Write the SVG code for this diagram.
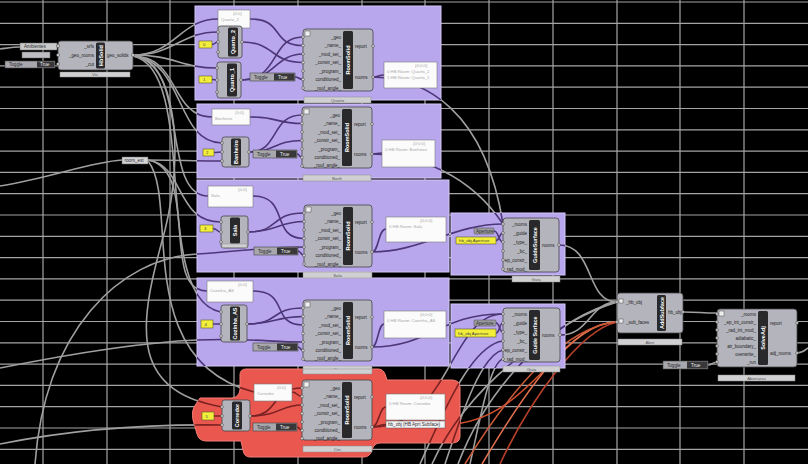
<svg xmlns="http://www.w3.org/2000/svg" xmlns:xlink="http://www.w3.org/1999/xlink" width="808" height="464" viewBox="0 0 808 464">
<style>
.grid{stroke:#a4a4a4;stroke-width:1.2;fill:none}
.grp{fill:#b9a7ee;stroke:#d2c6f6;stroke-width:1}
.grpR{fill:#e9574f;stroke:#f27c74;stroke-width:1}
.cmp{fill:#b4b4bc;stroke:#454548;stroke-width:0.8}
.bar{fill:#29292c}
.barT{font-family:"Liberation Sans",Arial,sans-serif;font-weight:bold;font-size:5.5px;fill:#fff;text-anchor:middle}
.lbl{font-family:"Liberation Sans",Arial,sans-serif;font-size:4.5px;fill:#1e1e1e}
.end{text-anchor:end}
.grip{fill:#dcdcdc;stroke:#333;stroke-width:0.5}
.pnl{fill:#fbfbfb;stroke:#7a7a7a;stroke-width:0.6}
.pt{font-family:"Liberation Sans",Arial,sans-serif;font-size:4.3px;fill:#a8a8a8}
.yel{fill:#f2ee3a;stroke:#5a5a30;stroke-width:0.6}
.yt{font-family:"Liberation Sans",Arial,sans-serif;font-size:4.3px;fill:#444}
.tgl{fill:#a7a7ad;stroke:#444;stroke-width:0.6}
.tglD{fill:#38383b}
.tt{font-family:"Liberation Sans",Arial,sans-serif;font-size:4.6px;fill:#2a2a2a}
.ttD{font-family:"Liberation Sans",Arial,sans-serif;font-size:4.6px;fill:#eee}
.tab{fill:#d0d0d3;stroke:#8a8a8a;stroke-width:0.5}
.tabT{font-family:"Liberation Sans",Arial,sans-serif;font-size:4.3px;fill:#555;text-anchor:middle}
.hot{fill:none;stroke-width:1.6}
</style>
<defs>
<clipPath id="clipP">
<rect x="195" y="6" width="246" height="94"/>
<rect x="197" y="104" width="244" height="74"/>
<rect x="197" y="180" width="252" height="92"/>
<rect x="197" y="278" width="252" height="88"/>
<rect x="451" y="213" width="114" height="62"/>
<rect x="451" y="304" width="114" height="64"/>
</clipPath>
<clipPath id="clipR">
<path d="M240,375 Q240,369 246,369 L378,369 Q383,369 385,374 L387,380 L452,380 Q460,380 460,388 L460,436 Q460,443 452,443 L380,443 Q374,443 372,450 Q370,457 364,457 L250,457 Q244,457 243,450 L241,441 L206,441 Q199,441 197,434 L193,420 Q191,410 196,404 L200,398 L232,398 Q239,397 240,390 Z"/>
</clipPath>
</defs>
<rect width="808" height="464" fill="#000"/>
<path class="grid" d="M43,0V464M107,0V464M170,0V464M234,0V464M298,0V464M362,0V464M425,0V464M489,0V464M553,0V464M617,0V464M680,0V464M744,0V464M0,2H808M0,23.3H808M0,44.6H808M0,65.9H808M0,87.2H808M0,108.5H808M0,129.8H808M0,151.1H808M0,172.4H808M0,193.7H808M0,215H808M0,236.3H808M0,257.6H808M0,278.9H808M0,300.2H808M0,321.5H808M0,342.8H808M0,364.1H808M0,385.4H808M0,406.7H808M0,428H808M0,449.3H808"/>

<g stroke="#a0a0a0">
<g id="connectors" fill="none" stroke-width="1.6">
<path d="M0,49 C8,48 14,47 20,47"/>
<path d="M133,55 C175,55 180,19 218,19"/>
<path d="M133,55 C175,55 180,32 218,32"/>
<path d="M133,55 C175,55 180,68 217,68"/>
<path d="M133,56 C180,56 170,117 212,117"/>
<path d="M133,56 C185,60 175,143 222,143"/>
<path d="M133,56 C190,60 160,196 208,196"/>
<path d="M133,56 C175,60 185,150 165,230 C140,320 125,390 222,407"/>
<path d="M133,56 C200,70 150,300 221,312"/>
<path d="M0,186 C50,178 90,162 122,160"/>
<path d="M148,160 C185,160 185,161 222,161"/>
<path d="M148,160 C185,165 175,222 221,222"/>
<path d="M148,160 C200,170 160,291 207,291"/>
<path d="M148,161 C180,200 130,360 254,392"/>
<path d="M35,464 C45,330 120,258 197,254 C250,250 270,247 304,247"/>
<path d="M0,368 C80,352 150,342 197,340 C250,338 270,342 303,342"/>
<path d="M0,444 C80,428 150,424 222,425"/>
<path d="M212,44.5 C215,44.5 215,42 218,42"/>
<path d="M212,79.5 C215,79.5 215,80 217,80"/>
<path d="M242,42 C275,42 270,62.5 303,62.5"/>
<path d="M250,19 C285,19 270,45.5 303,45.5"/>
<path d="M241,80 C280,80 270,37 303,37"/>
<path d="M241,80 C275,80 275,54 303,54"/>
<path d="M295,77 C299,77 299,79.5 303,79.5"/>
<path d="M373,77 C379,77 378,75 384,75"/>
<path d="M214,152.5 C218,152.5 218,152 222,152"/>
<path d="M249,152 C280,152 270,115 302,115"/>
<path d="M250,117 C280,117 275,123.5 302,123.5"/>
<path d="M249,152 C275,152 275,140.5 302,140.5"/>
<path d="M297,154 C300,154 299,157.5 302,157.5"/>
<path d="M372,154 C377,154 377,153 382,153"/>
<path d="M213,228.5 C217,228.5 217,232 221,232"/>
<path d="M248,232 C280,232 270,213 304,213"/>
<path d="M253,196 C290,196 270,238.5 304,238.5"/>
<path d="M248,232 C275,232 280,221.5 304,221.5"/>
<path d="M298,251 C301,251 301,255.5 304,255.5"/>
<path d="M372,252 C379,252 378,229 386,229"/>
<path d="M213,324 C217,324 217,324 221,324"/>
<path d="M247,324 C280,324 270,308 303,308"/>
<path d="M253,291 C290,291 270,325 303,325"/>
<path d="M247,324 C275,324 275,316.5 303,316.5"/>
<path d="M298,347 C301,347 300,350.5 303,350.5"/>
<path d="M372,347 C378,347 378,324 384,324"/>
<path d="M214,416 C218,416 218,416 222,416"/>
<path d="M250,416 C280,416 270,388 302,388"/>
<path d="M292,392 C297,392 297,396.5 302,396.5"/>
<path d="M250,416 C280,416 280,405 302,405"/>
<path d="M297,427 C300,427 299,430.5 302,430.5"/>
<path d="M372,427 C379,427 379,407 386,407"/>
<path d="M372,427 C379,427 379,424.5 386,424.5"/>
<path d="M373,77 C425,78 485,110 503,224"/>
<path d="M372,154 C420,155 470,175 503,224"/>
<path d="M372,252 C420,252 455,224 503,224"/>
<path d="M494,231 C499,231 498,242 503,242"/>
<path d="M496,240.5 C500,240.5 499,233 503,233"/>
<path d="M372,347 C430,347 440,314 503,314"/>
<path d="M372,427 C450,427 450,314 503,314"/>
<path d="M496,323 C500,323 499,332 503,332"/>
<path d="M496,333 C500,333 499,323 503,323"/>
<path d="M420,464 C440,420 470,345 503,341"/>
<path d="M445,464 C460,420 480,355 503,350"/>
<path d="M470,464 C480,420 490,362 503,359"/>
<path d="M458,464 C490,380 560,315 617,302"/>
<path d="M432,464 C470,380 560,320 617,302"/>
<path d="M559,245 C595,245 585,302 617,302"/>
<path d="M560,335 C590,335 590,302 617,302"/>
<path d="M683,312 C700,312 700,313 717,313"/>
<path d="M708,365 C712,365 713,362 717,362"/>
<path d="M797,353 C803,353 805,350 808,348"/>
</g>
</g>
<g id="hotwires">
<path class="hot" stroke="#d0502e" d="M445,424.5 C530,424 560,322 617,322"/>
<path class="hot" stroke="#e0704e" d="M482,464 C520,400 570,322 617,322"/>
<path class="hot" stroke="#b8402a" d="M500,464 C530,400 580,330 617,322"/>
<path class="hot" stroke="#c95a3a" d="M465,464 C510,390 565,326 617,322"/>
</g>

<g id="group-quarto"><rect class="grp" x="195" y="6" width="246" height="94"/></g>
<g id="group-banheiro"><rect class="grp" x="197" y="104" width="244" height="74"/></g>
<g id="group-sala"><rect class="grp" x="197" y="180" width="252" height="92"/></g>
<g id="group-cozinha"><rect class="grp" x="197" y="278" width="252" height="88"/></g>
<g id="group-corredor"><path class="grpR" d="M240,375 Q240,369 246,369 L378,369 Q383,369 385,374 L387,380 L452,380 Q460,380 460,388 L460,436 Q460,443 452,443 L380,443 Q374,443 372,450 Q370,457 364,457 L250,457 Q244,457 243,450 L241,441 L206,441 Q199,441 197,434 L193,420 Q191,410 196,404 L200,398 L232,398 Q239,397 240,390 Z"/></g>
<g id="group-guide1"><rect class="grp" x="451" y="213" width="114" height="62"/></g>
<g id="group-guide2"><rect class="grp" x="451" y="304" width="114" height="64"/></g>

<use xlink:href="#connectors" href="#connectors" stroke="#4e3778" clip-path="url(#clipP)"/>
<use xlink:href="#connectors" href="#connectors" stroke="#7a2222" clip-path="url(#clipR)"/>

<!-- top-left -->
<g id="panel-ambientes"><rect x="20" y="43" width="37" height="7" fill="#c9c9cc" stroke="#666" stroke-width="0.5"/><text class="tt" x="24" y="48.3">Ambientes</text></g>
<g id="param-small"><rect x="22" y="52" width="28" height="6" fill="#bdbdc2" stroke="#666" stroke-width="0.5"/></g>
<g id="toggle-0"><rect class="tgl" x="5" y="61" width="50" height="7"/><rect class="tglD" x="37" y="61.5" width="17.5" height="6"/><text class="tt" x="9" y="66">Toggle</text><text class="ttD" x="40" y="66">True</text></g>
<g id="hbsolid" transform="translate(58,41)">
<rect class="cmp" width="75" height="29" rx="3"/><rect class="bar" x="38" y="1.5" width="9" height="26" rx="1.5"/>
<text class="barT" transform="translate(44.5,14.5) rotate(-90)">HbSolid</text>
<text class="lbl end" x="36" y="6.5">_srfs</text><text class="lbl end" x="36" y="15.5">_geo_rooms</text><text class="lbl end" x="36" y="24.5">_cut</text>
<text class="lbl" x="49" y="15.5">geo_solids</text>
<circle class="grip" cx="0" cy="5" r="1.5"/><circle class="grip" cx="0" cy="14" r="1.5"/><circle class="grip" cx="0" cy="23" r="1.5"/><circle class="grip" cx="75" cy="14" r="1.5"/>
</g>
<g id="tab-0"><rect class="tab" x="60" y="72" width="70" height="5"/><text class="tabT" x="95" y="76">Vis</text></g>
<g id="room-ext"><rect x="122" y="157" width="26" height="7" fill="#d4d4d8" stroke="#666" stroke-width="0.5"/><text class="tt" x="124.5" y="162.3">room_ext</text></g>

<!-- group 1 -->
<g id="panel-q"><rect class="pnl" x="218" y="10" width="32" height="18"/><text class="pt" x="233" y="15">{0;0}</text><text class="pt" x="221" y="21">Quarto_2</text></g>
<g id="yel-1"><rect class="yel" x="199" y="41" width="13" height="7"/><text class="yt" x="203" y="46">0</text></g>
<g id="quarto2" transform="translate(218,26)"><rect class="cmp" width="24" height="32" rx="2.5"/><rect class="bar" x="10" y="1.5" width="10" height="29" rx="1.5"/><text class="barT" transform="translate(17,16) rotate(-90)">Quarto_2</text><circle class="grip" cx="0" cy="6" r="1.4"/><circle class="grip" cx="0" cy="16" r="1.4"/><circle class="grip" cx="0" cy="26" r="1.4"/><circle class="grip" cx="24" cy="16" r="1.4"/></g>
<g id="yel-2"><rect class="yel" x="199" y="76" width="13" height="7"/><text class="yt" x="203" y="81">1</text></g>
<g id="quarto1" transform="translate(217,62)"><rect class="cmp" width="24" height="36" rx="2.5"/><rect class="bar" x="10" y="1.5" width="10" height="33" rx="1.5"/><text class="barT" transform="translate(17,18) rotate(-90)">Quarto_1</text><circle class="grip" cx="0" cy="6" r="1.4"/><circle class="grip" cx="0" cy="18" r="1.4"/><circle class="grip" cx="0" cy="30" r="1.4"/><circle class="grip" cx="24" cy="18" r="1.4"/></g>
<g id="toggle-1"><rect class="tgl" x="250" y="73" width="45" height="8"/><rect class="tglD" x="274" y="73.5" width="20.5" height="7"/><text class="tt" x="254" y="78.6">Toggle</text><text class="ttD" x="278" y="78.6">True</text></g>
<g id="roomsolid-1" transform="translate(303,29)">
<rect class="cmp" width="70" height="62" rx="3"/><rect class="bar" x="40" y="2" width="10" height="58" rx="1.5"/><rect x="2" y="2" width="5" height="5" fill="#eee" stroke="#333" stroke-width="0.4"/>
<text class="barT" transform="translate(47,31) rotate(-90)">RoomSolid</text>
<text class="lbl end" x="38" y="9.5">_geo</text><text class="lbl end" x="38" y="18">_name_</text><text class="lbl end" x="38" y="26.5">_mod_set_</text><text class="lbl end" x="38" y="35">_constr_set_</text><text class="lbl end" x="38" y="43.5">_program_</text><text class="lbl end" x="38" y="52">conditioned_</text><text class="lbl end" x="38" y="60.5">_roof_angle_</text>
<text class="lbl" x="52" y="18.5">report</text><text class="lbl" x="52" y="49.5">rooms</text>
<circle class="grip" cx="0" cy="8" r="1.4"/><circle class="grip" cx="0" cy="16.5" r="1.4"/><circle class="grip" cx="0" cy="25" r="1.4"/><circle class="grip" cx="0" cy="33.5" r="1.4"/><circle class="grip" cx="0" cy="42" r="1.4"/><circle class="grip" cx="0" cy="50.5" r="1.4"/><circle class="grip" cx="0" cy="59" r="1.4"/><circle class="grip" cx="70" cy="17" r="1.4"/><circle class="grip" cx="70" cy="48" r="1.4"/>
</g>
<g id="panel-r1"><rect class="pnl" x="384" y="62" width="53" height="26"/><text class="pt" x="415" y="67">{0;0;0}</text><text class="pt" x="387" y="73">0 HB Room: Quarto_2</text><text class="pt" x="387" y="79">1 HB Room: Quarto_1</text></g>
<g id="tab-1"><rect class="tab" x="304" y="97" width="67" height="6"/><text class="tabT" x="337.5" y="101.6">Quarto</text></g>

<!-- group 2 -->
<g id="panel-b"><rect class="pnl" x="212" y="109" width="38" height="16"/><text class="pt" x="235" y="114">{0;0}</text><text class="pt" x="215" y="120">Banheiro</text></g>
<g id="yel-3"><rect class="yel" x="203" y="149" width="11" height="7"/><text class="yt" x="206" y="154">2</text></g>
<g id="banheiro" transform="translate(222,137)"><rect class="cmp" width="27" height="30" rx="2.5"/><rect class="bar" x="9" y="1.5" width="10" height="27" rx="1.5"/><text class="barT" transform="translate(16,15) rotate(-90)">Banheiro</text><circle class="grip" cx="0" cy="6" r="1.4"/><circle class="grip" cx="0" cy="15" r="1.4"/><circle class="grip" cx="0" cy="24" r="1.4"/><circle class="grip" cx="27" cy="15" r="1.4"/></g>
<g id="toggle-2"><rect class="tgl" x="253" y="150" width="44" height="8"/><rect class="tglD" x="276" y="150.5" width="20.5" height="7"/><text class="tt" x="257" y="155.6">Toggle</text><text class="ttD" x="280" y="155.6">True</text></g>
<g id="roomsolid-2" transform="translate(302,107)">
<rect class="cmp" width="70" height="61" rx="3"/><rect class="bar" x="40" y="2" width="10" height="57" rx="1.5"/><rect x="2" y="2" width="5" height="5" fill="#eee" stroke="#333" stroke-width="0.4"/>
<text class="barT" transform="translate(47,30.5) rotate(-90)">RoomSolid</text>
<text class="lbl end" x="38" y="9.5">_geo</text><text class="lbl end" x="38" y="18">_name_</text><text class="lbl end" x="38" y="26.5">_mod_set_</text><text class="lbl end" x="38" y="35">_constr_set_</text><text class="lbl end" x="38" y="43.5">_program_</text><text class="lbl end" x="38" y="52">conditioned_</text><text class="lbl end" x="38" y="60">_roof_angle_</text>
<text class="lbl" x="52" y="18.5">report</text><text class="lbl" x="52" y="48.5">rooms</text>
<circle class="grip" cx="0" cy="8" r="1.4"/><circle class="grip" cx="0" cy="16.5" r="1.4"/><circle class="grip" cx="0" cy="25" r="1.4"/><circle class="grip" cx="0" cy="33.5" r="1.4"/><circle class="grip" cx="0" cy="42" r="1.4"/><circle class="grip" cx="0" cy="50.5" r="1.4"/><circle class="grip" cx="0" cy="59" r="1.4"/><circle class="grip" cx="70" cy="17" r="1.4"/><circle class="grip" cx="70" cy="47" r="1.4"/>
</g>
<g id="panel-r2"><rect class="pnl" x="382" y="140" width="53" height="27"/><text class="pt" x="413" y="145">{0;0;0}</text><text class="pt" x="385" y="151">0 HB Room: Banheiro</text></g>
<g id="tab-2"><rect class="tab" x="303" y="175" width="68" height="6"/><text class="tabT" x="337" y="179.6">Banh</text></g>

<!-- group 3 -->
<g id="panel-s"><rect class="pnl" x="208" y="186" width="45" height="21"/><text class="pt" x="238" y="191">{0;0}</text><text class="pt" x="211" y="197">Sala</text></g>
<g id="yel-4"><rect class="yel" x="200" y="225" width="13" height="7"/><text class="yt" x="204" y="230">3</text></g>
<g id="sala" transform="translate(221,216)"><rect class="cmp" width="27" height="32" rx="2.5"/><rect class="bar" x="9" y="1.5" width="10" height="26" rx="1.5"/><text class="barT" transform="translate(16,14.5) rotate(-90)">Sala</text><rect class="tab" x="1" y="28" width="25" height="3.5"/><circle class="grip" cx="0" cy="6" r="1.4"/><circle class="grip" cx="0" cy="16" r="1.4"/><circle class="grip" cx="0" cy="26" r="1.4"/><circle class="grip" cx="27" cy="16" r="1.4"/></g>
<g id="toggle-3"><rect class="tgl" x="254" y="247" width="44" height="8"/><rect class="tglD" x="277" y="247.5" width="20.5" height="7"/><text class="tt" x="258" y="252.6">Toggle</text><text class="ttD" x="281" y="252.6">True</text></g>
<g id="roomsolid-3" transform="translate(304,205)">
<rect class="cmp" width="68" height="62" rx="3"/><rect class="bar" x="39" y="2" width="10" height="58" rx="1.5"/><rect x="2" y="2" width="5" height="5" fill="#eee" stroke="#333" stroke-width="0.4"/>
<text class="barT" transform="translate(46,31) rotate(-90)">RoomSolid</text>
<text class="lbl end" x="37" y="9.5">_geo</text><text class="lbl end" x="37" y="18">_name_</text><text class="lbl end" x="37" y="26.5">_mod_set_</text><text class="lbl end" x="37" y="35">_constr_set_</text><text class="lbl end" x="37" y="43.5">_program_</text><text class="lbl end" x="37" y="52">conditioned_</text><text class="lbl end" x="37" y="60.5">_roof_angle_</text>
<text class="lbl" x="51" y="18.5">report</text><text class="lbl" x="51" y="48.5">rooms</text>
<circle class="grip" cx="0" cy="8" r="1.4"/><circle class="grip" cx="0" cy="16.5" r="1.4"/><circle class="grip" cx="0" cy="25" r="1.4"/><circle class="grip" cx="0" cy="33.5" r="1.4"/><circle class="grip" cx="0" cy="42" r="1.4"/><circle class="grip" cx="0" cy="50.5" r="1.4"/><circle class="grip" cx="0" cy="59" r="1.4"/><circle class="grip" cx="68" cy="17" r="1.4"/><circle class="grip" cx="68" cy="47" r="1.4"/>
</g>
<g id="panel-r3"><rect class="pnl" x="386" y="217" width="60" height="25"/><text class="pt" x="420" y="222">{0;0;0}</text><text class="pt" x="389" y="228">0 HB Room: Sala</text></g>
<g id="tab-3"><rect class="tab" x="303" y="272" width="69" height="6"/><text class="tabT" x="337.5" y="276.6">Sala</text></g>

<!-- group 4 -->
<g id="panel-c"><rect class="pnl" x="207" y="281" width="46" height="21"/><text class="pt" x="238" y="286">{0;0}</text><text class="pt" x="210" y="292">Cozinha_AS</text></g>
<g id="yel-5"><rect class="yel" x="201" y="320" width="12" height="8"/><text class="yt" x="204.5" y="325.5">4</text></g>
<g id="cozinha" transform="translate(221,305)"><rect class="cmp" width="26" height="37" rx="2.5"/><rect class="bar" x="9" y="1.5" width="10" height="34" rx="1.5"/><text class="barT" transform="translate(16,18.5) rotate(-90)">Cozinha_AS</text><circle class="grip" cx="0" cy="7" r="1.4"/><circle class="grip" cx="0" cy="19" r="1.4"/><circle class="grip" cx="0" cy="31" r="1.4"/><circle class="grip" cx="26" cy="19" r="1.4"/></g>
<g id="toggle-4"><rect class="tgl" x="253" y="343" width="45" height="8"/><rect class="tglD" x="277" y="343.5" width="20.5" height="7"/><text class="tt" x="257" y="348.6">Toggle</text><text class="ttD" x="281" y="348.6">True</text></g>
<g id="roomsolid-4" transform="translate(303,300)">
<rect class="cmp" width="69" height="61" rx="3"/><rect class="bar" x="40" y="2" width="10" height="57" rx="1.5"/><rect x="2" y="2" width="5" height="5" fill="#eee" stroke="#333" stroke-width="0.4"/>
<text class="barT" transform="translate(47,30.5) rotate(-90)">RoomSolid</text>
<text class="lbl end" x="38" y="9.5">_geo</text><text class="lbl end" x="38" y="18">_name_</text><text class="lbl end" x="38" y="26.5">_mod_set_</text><text class="lbl end" x="38" y="35">_constr_set_</text><text class="lbl end" x="38" y="43.5">_program_</text><text class="lbl end" x="38" y="52">conditioned_</text><text class="lbl end" x="38" y="60">_roof_angle_</text>
<text class="lbl" x="52" y="18.5">report</text><text class="lbl" x="52" y="48.5">rooms</text>
<circle class="grip" cx="0" cy="8" r="1.4"/><circle class="grip" cx="0" cy="16.5" r="1.4"/><circle class="grip" cx="0" cy="25" r="1.4"/><circle class="grip" cx="0" cy="33.5" r="1.4"/><circle class="grip" cx="0" cy="42" r="1.4"/><circle class="grip" cx="0" cy="50.5" r="1.4"/><circle class="grip" cx="0" cy="59" r="1.4"/><circle class="grip" cx="69" cy="17" r="1.4"/><circle class="grip" cx="69" cy="47" r="1.4"/>
</g>
<g id="panel-r4"><rect class="pnl" x="384" y="311" width="62" height="27"/><text class="pt" x="420" y="316">{0;0;0}</text><text class="pt" x="387" y="322">0 HB Room: Cozinha_AS</text></g>
<g id="tab-4"><rect class="tab" x="303" y="366" width="69" height="6"/><text class="tabT" x="337.5" y="370.6">Coz</text></g>

<!-- red group -->
<g id="panel-cr"><rect class="pnl" x="254" y="384" width="38" height="17"/><text class="pt" x="277" y="389">{0;0}</text><text class="pt" x="257" y="395">Corredor</text></g>
<g id="yel-6"><rect class="yel" x="202" y="412" width="12" height="8"/><text class="yt" x="205.5" y="417.5">5</text></g>
<g id="corredor" transform="translate(222,400)"><rect class="cmp" width="28" height="31" rx="2.5"/><rect class="bar" x="10" y="1.5" width="10" height="28" rx="1.5"/><text class="barT" transform="translate(17,15.5) rotate(-90)">Corredor</text><circle class="grip" cx="0" cy="7" r="1.4"/><circle class="grip" cx="0" cy="16" r="1.4"/><circle class="grip" cx="0" cy="25" r="1.4"/><circle class="grip" cx="28" cy="16" r="1.4"/></g>
<g id="toggle-5"><rect class="tgl" x="253" y="423" width="44" height="8"/><rect class="tglD" x="276" y="423.5" width="20.5" height="7"/><text class="tt" x="257" y="428.6">Toggle</text><text class="ttD" x="280" y="428.6">True</text></g>
<g id="roomsolid-5" transform="translate(302,380)">
<rect class="cmp" width="70" height="60" rx="3"/><rect class="bar" x="40" y="2" width="10" height="56" rx="1.5"/><rect x="2" y="2" width="5" height="5" fill="#eee" stroke="#333" stroke-width="0.4"/>
<text class="barT" transform="translate(47,30) rotate(-90)">RoomSolid</text>
<text class="lbl end" x="38" y="9.5">_geo</text><text class="lbl end" x="38" y="18">_name_</text><text class="lbl end" x="38" y="26.5">_mod_set_</text><text class="lbl end" x="38" y="35">_constr_set_</text><text class="lbl end" x="38" y="43.5">_program_</text><text class="lbl end" x="38" y="52">conditioned_</text><text class="lbl end" x="38" y="59.5">_roof_angle_</text>
<text class="lbl" x="52" y="18.5">report</text><text class="lbl" x="52" y="48.5">rooms</text>
<circle class="grip" cx="0" cy="8" r="1.4"/><circle class="grip" cx="0" cy="16.5" r="1.4"/><circle class="grip" cx="0" cy="25" r="1.4"/><circle class="grip" cx="0" cy="33.5" r="1.4"/><circle class="grip" cx="0" cy="42" r="1.4"/><circle class="grip" cx="0" cy="50.5" r="1.4"/><circle class="grip" cx="0" cy="58.5" r="1.4"/><circle class="grip" cx="70" cy="17" r="1.4"/><circle class="grip" cx="70" cy="47" r="1.4"/>
</g>
<g id="panel-r5"><rect class="pnl" x="386" y="394" width="59" height="26"/><text class="pt" x="420" y="399">{0;0;0}</text><text class="pt" x="389" y="405">0 HB Room: Corredor</text></g>
<g id="panel-hbobj"><rect x="386" y="421" width="59" height="7" fill="#f4f4f6" stroke="#555" stroke-width="0.5"/><text class="tt" x="388" y="426.3">hb_obj (HB Aprt Subface)</text></g>
<g id="tab-5a"><rect class="tab" x="303" y="369" width="69" height="5"/></g>
<g id="tab-5"><rect class="tab" x="303" y="446" width="69" height="6"/><text class="tabT" x="337.5" y="450.6">Circ</text></g>

<!-- guide surface 1 -->
<g id="tag-ap1"><rect x="474" y="228" width="20" height="6" fill="#9c9ca2" stroke="#444" stroke-width="0.5" rx="1"/><text class="tt" x="476" y="232.6">Aperture</text></g>
<g id="yel-7"><rect class="yel" x="456" y="237" width="40" height="7"/><text class="yt" x="459" y="242">hb_obj Aperture</text></g>
<g id="guide-1" transform="translate(503,218)">
<rect class="cmp" width="56" height="54" rx="3"/><rect class="bar" x="26" y="2" width="11" height="50" rx="1.5"/>
<text class="barT" transform="translate(33.5,27) rotate(-90)">GuideSurface</text>
<text class="lbl end" x="24" y="7.5">_rooms</text><text class="lbl end" x="24" y="16.5">_guide</text><text class="lbl end" x="24" y="25.5">_type_</text><text class="lbl end" x="24" y="34.5">_bc_</text><text class="lbl end" x="24" y="43.5">ep_constr_</text><text class="lbl end" x="24" y="52.5">rad_mod_</text>
<text class="lbl" x="39" y="28.5">rooms</text>
<circle class="grip" cx="0" cy="6" r="1.4"/><circle class="grip" cx="0" cy="15" r="1.4"/><circle class="grip" cx="0" cy="24" r="1.4"/><circle class="grip" cx="0" cy="33" r="1.4"/><circle class="grip" cx="0" cy="42" r="1.4"/><circle class="grip" cx="0" cy="51" r="1.4"/><circle class="grip" cx="56" cy="27" r="1.4"/>
</g>
<g id="tab-g1"><rect class="tab" x="512" y="276" width="48" height="6"/><text class="tabT" x="536" y="280.6">Guia</text></g>

<!-- guide surface 2 -->
<g id="tag-ap2"><rect x="474" y="320" width="22" height="6" fill="#9c9ca2" stroke="#444" stroke-width="0.5" rx="1"/><text class="tt" x="476" y="324.6">Aperture</text></g>
<g id="yel-8"><rect class="yel" x="455" y="329" width="41" height="8"/><text class="yt" x="458" y="334.5">hb_obj Aperture</text></g>
<g id="guide-2" transform="translate(503,308)">
<rect class="cmp" width="57" height="54" rx="3"/><rect class="bar" x="26" y="2" width="11" height="50" rx="1.5"/>
<text class="barT" transform="translate(33.5,27) rotate(-90)">Guide Surface</text>
<text class="lbl end" x="24" y="7.5">_rooms</text><text class="lbl end" x="24" y="16.5">_guide</text><text class="lbl end" x="24" y="25.5">_type_</text><text class="lbl end" x="24" y="34.5">_bc_</text><text class="lbl end" x="24" y="43.5">ep_constr_</text><text class="lbl end" x="24" y="52.5">rad_mod_</text>
<text class="lbl" x="39" y="28.5">rooms</text>
<circle class="grip" cx="0" cy="6" r="1.4"/><circle class="grip" cx="0" cy="15" r="1.4"/><circle class="grip" cx="0" cy="24" r="1.4"/><circle class="grip" cx="0" cy="33" r="1.4"/><circle class="grip" cx="0" cy="42" r="1.4"/><circle class="grip" cx="0" cy="51" r="1.4"/><circle class="grip" cx="57" cy="27" r="1.4"/>
</g>
<g id="tab-g2"><rect class="tab" x="503" y="366" width="57" height="6"/><text class="tabT" x="531.5" y="370.6">Guia</text></g>

<!-- add subface -->
<g id="addsubface" transform="translate(617,293)">
<rect class="cmp" width="66" height="40" rx="3"/><rect class="bar" x="40" y="2" width="9" height="36" rx="1.5"/>
<text class="barT" transform="translate(46.5,20) rotate(-90)">AddSubface</text>
<rect x="2" y="6" width="4" height="4" fill="#eee" stroke="#333" stroke-width="0.4"/><rect x="2" y="26" width="4" height="4" fill="#eee" stroke="#333" stroke-width="0.4"/>
<text class="lbl" x="9" y="10.5">_hb_obj</text><text class="lbl" x="9" y="30.5">_sub_faces</text><text class="lbl" x="51" y="20.5">hb_obj</text>
<circle class="grip" cx="0" cy="9" r="1.4"/><circle class="grip" cx="0" cy="29" r="1.4"/><circle class="grip" cx="66" cy="19" r="1.4"/>
</g>
<g id="tab-add"><rect class="tab" x="618" y="339" width="64" height="6"/><text class="tabT" x="650" y="343.6">Abrir</text></g>

<!-- solve adjacency -->
<g id="toggle-6"><rect class="tgl" x="663" y="361" width="45" height="8"/><rect class="tglD" x="687" y="361.5" width="20.5" height="7"/><text class="tt" x="667" y="366.6">Toggle</text><text class="ttD" x="691" y="366.6">True</text></g>
<g id="solveadj" transform="translate(717,309)">
<rect class="cmp" width="80" height="58" rx="3"/><rect class="bar" x="41" y="2" width="10" height="54" rx="1.5"/><rect x="2" y="2" width="5" height="5" fill="#eee" stroke="#333" stroke-width="0.4"/>
<text class="barT" transform="translate(48,29) rotate(-90)">SolveAdj</text>
<text class="lbl end" x="39" y="6.5">_rooms</text><text class="lbl end" x="39" y="14.5">_ep_int_constr_</text><text class="lbl end" x="39" y="22.5">_rad_int_mod_</text><text class="lbl end" x="39" y="30.5">adiabatic_</text><text class="lbl end" x="39" y="38.5">air_boundary_</text><text class="lbl end" x="39" y="46.5">overwrite_</text><text class="lbl end" x="39" y="54.5">_run</text>
<text class="lbl" x="53" y="15.5">report</text><text class="lbl" x="53" y="45.5">adj_rooms</text>
<circle class="grip" cx="0" cy="5" r="1.4"/><circle class="grip" cx="0" cy="13" r="1.4"/><circle class="grip" cx="0" cy="21" r="1.4"/><circle class="grip" cx="0" cy="29" r="1.4"/><circle class="grip" cx="0" cy="37" r="1.4"/><circle class="grip" cx="0" cy="45" r="1.4"/><circle class="grip" cx="0" cy="53" r="1.4"/><circle class="grip" cx="80" cy="14" r="1.4"/><circle class="grip" cx="80" cy="44" r="1.4"/>
</g>
<g id="tab-solve"><rect class="tab" x="718" y="375" width="77" height="6"/><text class="tabT" x="756.5" y="379.6">Aberturas</text></g>
</svg>
